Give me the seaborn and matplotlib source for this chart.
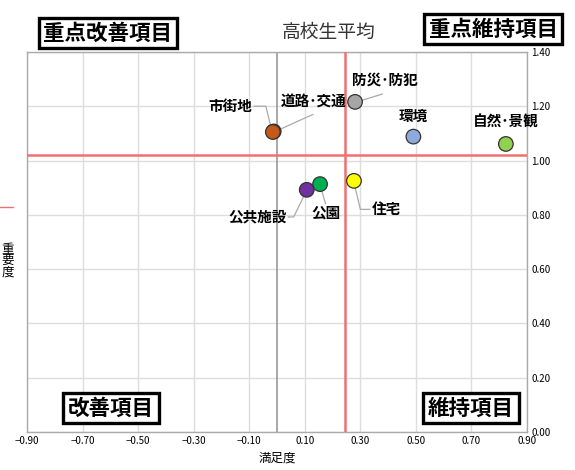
import matplotlib
matplotlib.use('Agg')
import matplotlib.pyplot as plt
import seaborn as sns
import pandas as pd

# 項目ごとの満足度・重要度
items = ['道路･交通', '市街地', '防災･防犯', '環境', '自然･景観', '住宅', '公園', '公共施設']
manzoku = [-0.012, -0.015, 0.281, 0.491, 0.824, 0.277, 0.155, 0.107]
juyodo = [1.107, 1.105, 1.216, 1.088, 1.061, 0.925, 0.913, 0.892]
colors = ['#C5581B', '#C5581B', '#A6A6A6', '#8EA9DB', '#92D050', '#FFFF00', '#00B050', '#7030A0']

# 高校生平均
avg_x = 0.245
avg_y = 1.02

x_ticks = [-0.9, -0.7, -0.5, -0.3, -0.1, 0.1, 0.3, 0.5, 0.7, 0.9]
y_ticks = [0.0, 0.2, 0.4, 0.6, 0.8, 1.0, 1.2, 1.4]

df = pd.DataFrame({'項目': items, '満足度': manzoku, '重要度': juyodo})

sns.set_style('white')
plt.rcParams['font.family'] = ['Noto Sans CJK JP', 'DejaVu Sans']
plt.rcParams['text.color'] = 'black'
plt.rcParams['xtick.color'] = 'black'
plt.rcParams['ytick.color'] = 'black'
plt.rcParams['axes.labelcolor'] = 'black'

fig = plt.figure(figsize=(5.75, 4.7), dpi=100)
ax = fig.add_axes([0.047, 0.081, 0.8695, 0.8085])

sns.scatterplot(data=df, x='満足度', y='重要度', hue='項目', palette=colors,
                s=110, edgecolor='#333333', linewidth=0.9, legend=False, ax=ax, zorder=5)

ax.set_xlim(-0.9, 0.9)
ax.set_ylim(0, 1.4)
ax.set_xticks(x_ticks)
ax.set_yticks(y_ticks)
ax.set_xticklabels([f'{v:.2f}'.replace('-', '−') for v in x_ticks], fontsize=7)
ax.set_yticklabels([f'{v:.2f}' for v in y_ticks], fontsize=7)
ax.yaxis.tick_right()
ax.tick_params(length=0, pad=3)
ax.grid(True, color='#DDDDDD', linewidth=1)
for s in ax.spines.values():
    s.set_color('#AAAAAA')
    s.set_linewidth(1)

ax.axvline(0, color='#999999', linewidth=1.2, zorder=2)
ax.axvline(avg_x, color='#F07070', linewidth=1.8, zorder=3)
ax.axhline(avg_y, color='#F07070', linewidth=1.8, zorder=3)

ax.set_xlabel('満足度', fontsize=9, labelpad=4)
ax.set_ylabel('')
fig.text(0.014, 0.445, '重\n要\n度', fontsize=9, linespacing=0.85, ha='center', va='center')

# 凡例の切れ端
fig.add_artist(plt.Line2D([0, 0.022], [0.56, 0.56], color='#F07070', linewidth=1))

# ラベル
lab = dict(fontsize=10.5, fontweight='bold', zorder=6)
ln = dict(color='#AAAAAA', linewidth=0.9, zorder=4)
ax.text(-0.088, 1.20, '市街地', ha='right', va='center', **lab)
ax.plot([-0.083, -0.04, -0.02], [1.20, 1.20, 1.115], **ln)
ax.text(0.13, 1.22, '道路･交通', ha='center', va='center', **lab)
ax.plot([0.13, 0.0], [1.17, 1.11], **ln)
ax.text(0.39, 1.297, '防災･防犯', ha='center', va='center', **lab)
ax.plot([0.38, 0.30], [1.245, 1.22], **ln)
ax.text(0.49, 1.164, '環境', ha='center', va='center', **lab)
ax.text(0.825, 1.142, '自然･景観', ha='center', va='center', **lab)
ax.text(0.34, 0.82, '住宅', ha='left', va='center', **lab)
ax.plot([0.277, 0.30, 0.335], [0.92, 0.82, 0.82], **ln)
ax.text(0.176, 0.807, '公園', ha='center', va='center', **lab)
ax.plot([0.155, 0.175], [0.91, 0.84], **ln)
ax.text(0.036, 0.792, '公共施設', ha='right', va='center', **lab)
ax.plot([0.04, 0.06, 0.107], [0.792, 0.792, 0.89], **ln)

# 象限ラベル
box = dict(boxstyle='square,pad=0.22', facecolor='white', edgecolor='black', linewidth=2.4)
fig.text(108 / 575, 1 - 33 / 470, '重点改善項目', fontsize=15.5, fontweight='bold', ha='center', va='center', bbox=box)
fig.text(493 / 575, 1 - 29 / 470, '重点維持項目', fontsize=15.5, fontweight='bold', ha='center', va='center', bbox=box)
fig.text(111 / 575, 1 - 408 / 470, '改善項目', fontsize=15.5, fontweight='bold', ha='center', va='center', bbox=box)
fig.text(471 / 575, 1 - 408 / 470, '維持項目', fontsize=15.5, fontweight='bold', ha='center', va='center', bbox=box)
fig.text(329 / 575, 1 - 32 / 470, '高校生平均', fontsize=13.5, color='#333333', ha='center', va='center')

fig.savefig('out.png', dpi=100)
